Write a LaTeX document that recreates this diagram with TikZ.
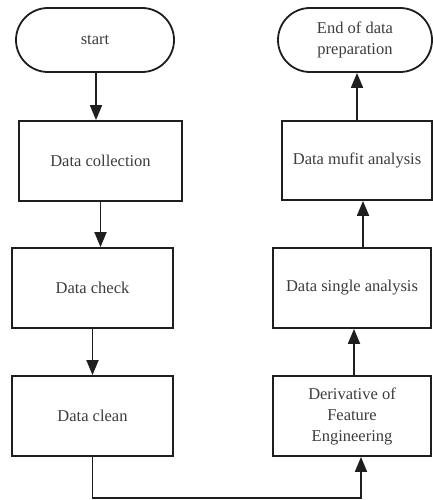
\documentclass[tikz,border=0pt]{standalone}
\usepackage{fontspec}
\setmainfont{Liberation Serif}
\usetikzlibrary{arrows.meta,shapes.misc}
\definecolor{ink}{HTML}{1E1E1E}
\definecolor{txt}{HTML}{3C3C3C}
\begin{document}
\begin{tikzpicture}[x=1pt,y=1pt,
  every node/.style={font=\fontsize{16.5}{21}\selectfont, text=txt, align=center, inner sep=0pt},
  procbox/.style={draw=ink, line width=1.8pt, rectangle, minimum width=161pt, minimum height=80pt},
  termbox/.style={draw=ink, line width=1.8pt, rounded rectangle, minimum width=158pt, minimum height=64pt},
  flow/.style={draw=ink, line width=1.8pt, -{Triangle[width=12pt,length=15pt]}}]
\useasboundingbox (0,0) rectangle (433,-500);
% left column
\node[termbox] (start) at (95,-40) {start};
\node[procbox, minimum width=163pt] (collect) at (100.5,-161) {Data collection};
\node[procbox] (check) at (92.5,-288) {Data check};
\node[procbox] (clean) at (92.5,-416) {Data clean};
% right column
\node[procbox, minimum width=158pt] (deriv) at (352,-416) {Derivative of\\Feature\\Engineering};
\node[procbox, minimum width=158pt] (single) at (352,-288) {Data single analysis};
\node[procbox, minimum width=150pt, minimum height=79pt] (mufit) at (357,-160.5) {Data mufit analysis};
\node[termbox, minimum width=154pt] (end) at (355,-40) {End of data\\preparation};
% connectors
\draw[flow] ([xshift=1pt]start.south) -- ([xshift=1pt]start.south |- collect.north);
\draw[flow] (collect.south) -- (collect.south |- check.north);
\draw[flow] (check.south) -- (check.south |- clean.north);
\draw[flow] (clean.south) -- ++(0,-41) -| ([xshift=9pt]deriv.south);
\draw[flow] ([xshift=2pt]deriv.north) -- ([xshift=2pt]deriv.north |- single.south);
\draw[flow] ([xshift=11pt]single.north) -- ([xshift=11pt]single.north |- mufit.south);
\draw[flow] (mufit.north) -- (mufit.north |- end.south);
\end{tikzpicture}
\end{document}
